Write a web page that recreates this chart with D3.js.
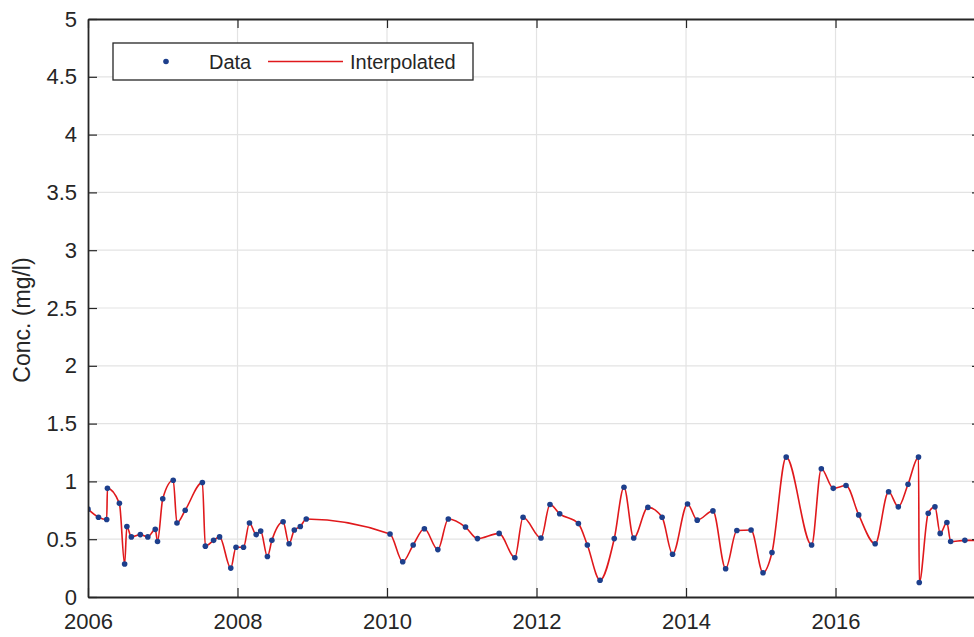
<!DOCTYPE html>
<html>
<head>
<meta charset="utf-8">
<script src="https://cdn.jsdelivr.net/npm/d3@7"></script>
<style>
  html, body { margin: 0; padding: 0; background: #fff; }
  svg { display: block; font-family: "Liberation Sans", Arial, sans-serif; }
</style>
</head>
<body>
<svg id="chart" width="974" height="637"></svg>
<script>
// Sampling dates (decimal years) and measured concentrations (mg/l)
const sampleYears = [
  2006.00, 2006.14, 2006.25, 2006.26, 2006.42, 2006.49, 2006.52, 2006.58, 2006.70, 2006.80,
  2006.90, 2006.93, 2007.00, 2007.14, 2007.19, 2007.30, 2007.53, 2007.57, 2007.68, 2007.76,
  2007.91, 2007.98, 2008.08, 2008.16, 2008.25, 2008.31, 2008.40, 2008.46, 2008.61, 2008.69,
  2008.76, 2008.84, 2008.92,
  2010.04, 2010.21, 2010.35, 2010.50, 2010.68, 2010.82, 2011.05, 2011.21, 2011.50, 2011.71,
  2011.82, 2012.06, 2012.18, 2012.31, 2012.56, 2012.68, 2012.85, 2013.04, 2013.17, 2013.30,
  2013.49, 2013.68, 2013.82, 2014.02, 2014.15, 2014.36, 2014.53, 2014.68, 2014.87, 2015.03,
  2015.15, 2015.34, 2015.68, 2015.81, 2015.97, 2016.14, 2016.31, 2016.53, 2016.71, 2016.84,
  2016.97, 2017.11, 2017.12, 2017.24, 2017.33, 2017.40, 2017.49, 2017.54, 2017.73, 2018.00
];
const concValues = [
  0.76, 0.69, 0.67, 0.94, 0.81, 0.285, 0.61, 0.52, 0.54, 0.52,
  0.585, 0.48, 0.85, 1.01, 0.64, 0.75, 0.99, 0.44, 0.49, 0.52,
  0.25, 0.43, 0.43, 0.64, 0.54, 0.57, 0.35, 0.49, 0.65, 0.46,
  0.58, 0.61, 0.675,
  0.545, 0.305, 0.45, 0.59, 0.41, 0.675, 0.605, 0.505, 0.55, 0.34,
  0.69, 0.51, 0.80, 0.72, 0.635, 0.45, 0.145, 0.505, 0.95, 0.51,
  0.775, 0.69, 0.37, 0.805, 0.665, 0.745, 0.245, 0.575, 0.58, 0.21,
  0.385, 1.21, 0.45, 1.11, 0.94, 0.965, 0.71, 0.46, 0.91, 0.78,
  0.975, 1.21, 0.125, 0.725, 0.78, 0.55, 0.645, 0.48, 0.49, 0.49
];

const xTickValues = [2006, 2008, 2010, 2012, 2014, 2016];
const yTickValues = [0, 0.5, 1, 1.5, 2, 2.5, 3, 3.5, 4, 4.5, 5];
const yLabel = "Conc. (mg/l)";
const legendLabels = ["Data", "Interpolated"];

const data = sampleYears.map((t, i) => ({ t, v: concValues[i] }));

const svg = d3.select("#chart");
const plotLeft = 88, plotRight = 981, plotTop = 19, plotBottom = 597;

const x = d3.scaleLinear().domain([2006, 2017.946]).range([plotLeft, plotRight]);
const y = d3.scaleLinear().domain([0, 5]).range([plotBottom, plotTop]);

const axisColor = "#262626";
const gridColor = "#e3e3e3";

// grid
const grid = svg.append("g");
grid.selectAll("line.gx").data(xTickValues.slice(1)).join("line")
  .attr("class", "gx")
  .attr("x1", d => x(d)).attr("x2", d => x(d))
  .attr("y1", plotTop).attr("y2", plotBottom)
  .attr("stroke", gridColor).attr("stroke-width", 1.2);
grid.selectAll("line.gy").data(yTickValues.slice(1, -1)).join("line")
  .attr("class", "gy")
  .attr("x1", plotLeft).attr("x2", plotRight)
  .attr("y1", d => y(d)).attr("y2", d => y(d))
  .attr("stroke", gridColor).attr("stroke-width", 1.2);

// clip region for plotted series
svg.append("clipPath").attr("id", "plotArea")
  .append("rect").attr("x", plotLeft).attr("y", plotTop)
  .attr("width", plotRight - plotLeft).attr("height", plotBottom - plotTop);

const plot = svg.append("g").attr("clip-path", "url(#plotArea)");

const line = d3.line()
  .x(d => x(d.t)).y(d => y(d.v))
  .curve(d3.curveMonotoneX);

plot.append("path").datum(data)
  .attr("d", line)
  .attr("fill", "none")
  .attr("stroke", "#e0191c")
  .attr("stroke-width", 1.6);

plot.selectAll("circle").data(data).join("circle")
  .attr("cx", d => x(d.t)).attr("cy", d => y(d.v))
  .attr("r", 2.8)
  .attr("fill", "#1d3f8c");

// axes (box style, ticks inward)
const tickLen = 9;
const fontSize = 22;

const bottomAxis = d3.axisBottom(x).tickValues(xTickValues).tickFormat(d3.format("d"))
  .tickSizeInner(-tickLen).tickSizeOuter(0).tickPadding(tickLen + 9);
const gB = svg.append("g").attr("transform", `translate(0,${plotBottom})`).call(bottomAxis);

const topAxis = d3.axisTop(x).tickValues(xTickValues).tickFormat("")
  .tickSizeInner(-tickLen).tickSizeOuter(0);
const gT = svg.append("g").attr("transform", `translate(0,${plotTop})`).call(topAxis);

const leftAxis = d3.axisLeft(y).tickValues(yTickValues).tickFormat(d3.format("~g"))
  .tickSizeInner(-tickLen).tickSizeOuter(0).tickPadding(tickLen + 2);
const gL = svg.append("g").attr("transform", `translate(${plotLeft},0)`).call(leftAxis);

const rightAxis = d3.axisRight(y).tickValues(yTickValues).tickFormat("")
  .tickSizeInner(-tickLen).tickSizeOuter(0);
const gR = svg.append("g").attr("transform", `translate(${plotRight},0)`).call(rightAxis);

[gB, gT, gL, gR].forEach(g => {
  g.select(".domain").attr("stroke", axisColor).attr("stroke-width", 1.8);
  g.selectAll(".tick line").attr("stroke", axisColor).attr("stroke-width", 1.2);
  g.selectAll(".tick text")
    .attr("fill", axisColor)
    .style("font-size", fontSize + "px")
    .style("font-family", '"Liberation Sans", Arial, sans-serif');
});
gB.selectAll(".tick text").attr("dy", "0.62em");

// y-axis title
svg.append("text")
  .attr("transform", `translate(30,${(plotTop + plotBottom) / 2 + 12}) rotate(-90)`)
  .attr("text-anchor", "middle")
  .attr("fill", axisColor)
  .style("font-size", "23px")
  .text(yLabel);

// legend
const lg = svg.append("g");
lg.append("rect")
  .attr("x", 113).attr("y", 43).attr("width", 360).attr("height", 37)
  .attr("fill", "#fff").attr("stroke", axisColor).attr("stroke-width", 1.3);
lg.append("circle").attr("cx", 166).attr("cy", 61.5).attr("r", 2.8).attr("fill", "#1d3f8c");
lg.append("text").attr("x", 209).attr("y", 69)
  .attr("fill", axisColor).style("font-size", "20px").text(legendLabels[0]);
lg.append("line").attr("x1", 268).attr("x2", 343).attr("y1", 61.5).attr("y2", 61.5)
  .attr("stroke", "#e0191c").attr("stroke-width", 1.6);
lg.append("text").attr("x", 350).attr("y", 69)
  .attr("fill", axisColor).style("font-size", "20px").text(legendLabels[1]);
</script>
</body>
</html>
